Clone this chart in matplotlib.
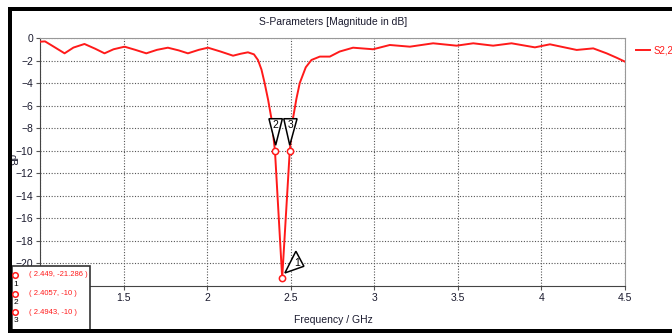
import numpy as np
import matplotlib
matplotlib.use("Agg")
import matplotlib.pyplot as plt
import matplotlib.transforms as mtransforms
from matplotlib.patches import Polygon, Rectangle
from matplotlib.lines import Line2D

plt.rcParams['font.family'] = ['Liberation Sans', 'DejaVu Sans']

# S2,2 trace
freq = [1.0, 1.03, 1.08, 1.147, 1.2, 1.266, 1.33, 1.386, 1.44, 1.506, 1.57, 1.636,
        1.70, 1.765, 1.83, 1.885, 1.95, 2.005, 2.08, 2.155, 2.20, 2.244, 2.28, 2.304,
        2.325, 2.344, 2.365, 2.384, 2.4057, 2.449, 2.4943, 2.514, 2.534, 2.554, 2.59,
        2.624, 2.674, 2.734, 2.793, 2.873, 2.993, 3.093, 3.213, 3.352, 3.492, 3.592,
        3.711, 3.821, 3.961, 4.051, 4.211, 4.31, 4.39, 4.45, 4.5]
s22 = [-0.33, -0.3, -0.75, -1.36, -0.85, -0.53, -0.95, -1.36, -1.0, -0.77, -1.05, -1.36,
       -1.05, -0.86, -1.1, -1.36, -1.05, -0.86, -1.2, -1.57, -1.4, -1.27, -1.45, -1.95,
       -2.8, -4.0, -5.5, -7.1, -10.0, -21.286, -10.0, -7.1, -5.4, -4.0, -2.6,
       -1.95, -1.65, -1.65, -1.2, -0.86, -1.0, -0.62, -0.77, -0.47, -0.68, -0.47,
       -0.68, -0.47, -0.83, -0.56, -1.06, -0.92, -1.36, -1.75, -2.1]

marker_f = [2.449, 2.4057, 2.4943]
marker_db = [-21.286, -10, -10]
marker_txt = ["( 2.449, -21.286 )", "( 2.4057, -10 )", "( 2.4943, -10 )"]

# the "1" tick label sits under the marker box in the reference
xticks = [1, 1.5, 2, 2.5, 3, 3.5, 4, 4.5]
xtick_labels = ['', '1.5', '2', '2.5', '3', '3.5', '4', '4.5']

red = '#ff1a1a'
txtc = '#1a1a2e'

fig = plt.figure(figsize=(6.72, 3.33), dpi=100)
ax = fig.add_axes([40 / 672, 1 - 286 / 333, 585 / 672, 248 / 333])

ax.plot(freq, s22, color=red, lw=1.4, label='S2,2', zorder=3)
ax.plot(marker_f, marker_db, 'o', ms=4.5, mfc='white', mec=red, mew=1.1, zorder=4)

ax.set_xlim(1, 4.5)
ax.set_ylim(-22, 0)
ax.set_xticks(xticks)
ax.set_xticklabels(xtick_labels)
ax.set_yticks(np.arange(0, -21, -2))
ax.grid(True, color='#555555', ls=(0, (1, 1.5)), lw=0.8)
ax.tick_params(axis='both', labelsize=7.5, colors='#555555', labelcolor=txtc, length=3, pad=2)
for s in ['top', 'right']:
    ax.spines[s].set_color('#999999')
for s in ['left', 'bottom']:
    ax.spines[s].set_color('#444444')

fig.text(333 / 672, 1 - 22 / 333, 'S-Parameters [Magnitude in dB]', ha='center', va='center',
         fontsize=7.5, color=txtc)
fig.text(333 / 672, 1 - 320 / 333, 'Frequency / GHz', ha='center', va='center', fontsize=7.5, color=txtc)
fig.text(12 / 672, 1 - 160 / 333, 'dB', ha='center', va='center', fontsize=7, color=txtc, rotation=-90)

# marker triangles (offsets in inches from the marker point)
tri_shapes = [
    [(0.027, 0.05), (0.137, 0.267), (0.217, 0.117)],
    [(-0.06, 0.32), (0.074, 0.32), (0.007, 0.055)],
    [(-0.06, 0.32), (0.073, 0.32), (0.0, 0.055)],
]
tri_lbl = [(0.15, 0.15), (0.005, 0.26), (0.005, 0.26)]
for i in range(3):
    tr = fig.dpi_scale_trans + mtransforms.ScaledTranslation(marker_f[i], marker_db[i], ax.transData)
    ax.add_patch(Polygon(tri_shapes[i], closed=True, fc='white', ec='black', lw=1.1,
                         transform=tr, zorder=5, clip_on=False))
    ax.text(tri_lbl[i][0], tri_lbl[i][1], str(i + 1), transform=tr, ha='center', va='center',
            fontsize=7.5, color='black', zorder=6)

# legend at right
ax.legend(loc='upper left', bbox_to_anchor=(1.012, 0.985), frameon=False, fontsize=7,
          labelcolor=red, handlelength=1.5, handletextpad=0.3, borderaxespad=0)

# marker readout box
fig.patches.append(Rectangle((12 / 672, 1 - 330 / 333), 78 / 672, 64 / 333, transform=fig.transFigure,
                             fc='white', ec='#333333', lw=1.2, zorder=10))
for i in range(3):
    yy = 1 - (275 + i * 18.5) / 333
    fig.add_artist(Line2D([15 / 672], [yy], marker='o', ms=4, mfc='white', mec=red, mew=1.1,
                          transform=fig.transFigure, zorder=11))
    fig.text(16 / 672, yy - 9 / 333, str(i + 1), ha='center', va='center', fontsize=6,
             color='black', zorder=11)
    fig.text(29 / 672, yy, marker_txt[i], ha='left', va='center', fontsize=5.5, color=red, zorder=11)

# black screenshot frame
fig.patches.append(Rectangle((8 / 672, 1 - 11 / 333), 664 / 672, 4 / 333, transform=fig.transFigure,
                             fc='black', ec='none', zorder=12))
fig.patches.append(Rectangle((8 / 672, 0), 4 / 672, 1 - 7 / 333, transform=fig.transFigure,
                             fc='black', ec='none', zorder=12))
fig.patches.append(Rectangle((8 / 672, 0), 664 / 672, 4 / 333, transform=fig.transFigure,
                             fc='black', ec='none', zorder=12))

fig.savefig('out.png', dpi=100)
